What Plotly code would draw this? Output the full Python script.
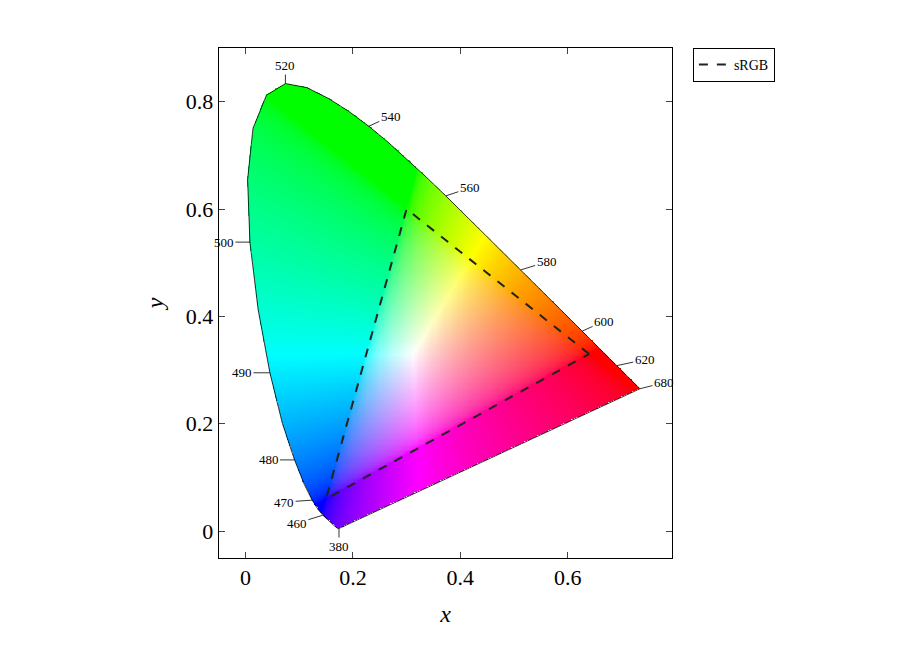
import numpy as np
import plotly.graph_objects as go

wl = [380,420,440,450,460,465,470,475,480,485,490,495,500,505,510,515,520,525,530,535,540,545,550,555,560,565,570,575,580,585,590,595,600,605,610,620,630,640,660,680]
lx = [0.1741,0.1714,0.1644,0.1566,0.1440,0.1355,0.1241,0.1096,0.0913,0.0687,0.0454,0.0235,0.0082,0.0039,0.0139,0.0389,0.0743,0.1142,0.1547,0.1929,0.2296,0.2658,0.3016,0.3373,0.3731,0.4087,0.4441,0.4788,0.5125,0.5448,0.5752,0.6029,0.6270,0.6482,0.6658,0.6915,0.7079,0.7190,0.7300,0.7347]
ly = [0.0050,0.0051,0.0109,0.0177,0.0297,0.0399,0.0578,0.0868,0.1327,0.2007,0.2950,0.4127,0.5384,0.6548,0.7502,0.8120,0.8338,0.8262,0.8059,0.7816,0.7543,0.7243,0.6923,0.6589,0.6245,0.5896,0.5547,0.5202,0.4866,0.4544,0.4242,0.3965,0.3725,0.3514,0.3340,0.3083,0.2920,0.2809,0.2700,0.2653]
srgb_x = [0.64, 0.30, 0.15, 0.64]
srgb_y = [0.33, 0.60, 0.06, 0.33]
label_wl = [380,460,470,480,490,500,520,540,560,580,600,620,680]
label_off = {380:(0,18),460:(-26,8),470:(-28,2),480:(-26,0),490:(-28,0),500:(-26,0),520:(0,-18),540:(22,-10),560:(24,-8),580:(26,-8),600:(22,-10),620:(28,-6),680:(24,-6)}

# colour image
x0, x1, y0, y1 = -0.05, 0.795, -0.05, 0.9
n = 420
gx = np.linspace(x0, x1, n); gy = np.linspace(y0, y1, n)
X, Y = np.meshgrid(gx, gy)
px = np.array(lx + [lx[0]]); py = np.array(ly + [ly[0]])
inside = np.zeros(X.shape, bool)
for i in range(len(px) - 1):
    xa, ya, xb, yb = px[i], py[i], px[i+1], py[i+1]
    cond = (ya > Y) != (yb > Y)
    xint = xa + (Y - ya) * (xb - xa) / (yb - ya + 1e-12)
    inside ^= cond & (X < xint)
Ys = np.where(Y > 1e-4, Y, 1e-4)
XX = X / Ys; ZZ = (1 - X - Y) / Ys
M = np.array([[3.2406,-1.5372,-0.4986],[-0.9689,1.8758,0.0415],[0.0557,-0.2040,1.0570]])
rgb = np.stack([XX, np.ones_like(XX), ZZ], -1) @ M.T
rgb = np.clip(rgb, 0, None)
rgb = rgb / np.maximum(rgb.max(-1, keepdims=True), 1e-9)
rgb = np.where(rgb <= 0.0031308, 12.92 * rgb, 1.055 * rgb ** (1/2.4) - 0.055)
img = (np.clip(rgb, 0, 1) * 255).astype(np.uint8)
img[~inside] = 255

fig = go.Figure()
fig.add_trace(go.Image(z=img, x0=x0, dx=gx[1]-gx[0], y0=y0, dy=gy[1]-gy[0], hoverinfo="skip"))
fig.add_trace(go.Scatter(x=lx + [lx[0]], y=ly + [ly[0]], mode="lines", line=dict(color="black", width=0.8), showlegend=False))
fig.add_trace(go.Scatter(x=srgb_x, y=srgb_y, mode="lines", name="sRGB", line=dict(color="#222", width=2, dash="dash")))
for w in label_wl:
    i = wl.index(w); ax, ay = label_off[w]
    fig.add_annotation(x=lx[i], y=ly[i], text=str(w), showarrow=True, arrowhead=0, arrowwidth=0.8, arrowcolor="black",
                       ax=ax, ay=ay, font=dict(size=13, family="Liberation Serif", color="black"))
fig.update_layout(
    width=901, height=645, margin=dict(l=205, r=231, t=40, b=95),
    plot_bgcolor="white", paper_bgcolor="white",
    font=dict(family="Liberation Serif", color="black"),
    legend=dict(x=1.032, y=1, xanchor="left", yanchor="top", bordercolor="black", borderwidth=1, font=dict(size=14)),
    xaxis=dict(range=[x0, x1], tickvals=[0,0.2,0.4,0.6,0.8], ticktext=["0","0.2","0.4","0.6","0.8"], ticks="inside", ticklen=6,
               showline=True, mirror="ticks", linecolor="black", showgrid=False, zeroline=False, tickfont=dict(size=22),
               title=dict(text="<i>x</i>", font=dict(size=24))),
    yaxis=dict(range=[y0, y1], tickvals=[0,0.2,0.4,0.6,0.8], ticktext=["0","0.2","0.4","0.6","0.8"], ticks="inside", ticklen=6,
               showline=True, mirror="ticks", linecolor="black", showgrid=False, zeroline=False, tickfont=dict(size=22),
               title=dict(text="<i>y</i>", font=dict(size=24)), autorange=False, scaleanchor=None),
)
fig.write_html("out.html")
